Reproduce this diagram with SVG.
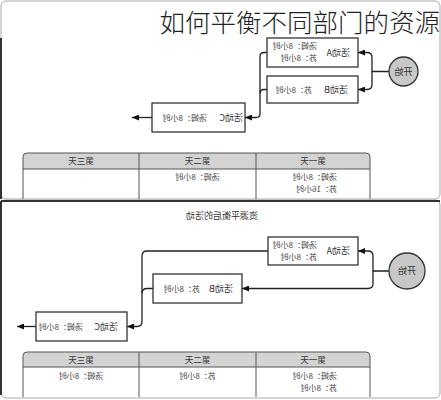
<svg xmlns="http://www.w3.org/2000/svg" width="441" height="400" viewBox="0 0 441 400">
<style>
.t{font-family:"Noto Sans CJK SC","Liberation Sans",sans-serif;fill:#333}
.lbl{font-size:9px}
.det{font-size:8px;fill:#444}
.hd{font-size:8.5px;text-anchor:middle;fill:#333}
.box{fill:#fff;stroke:#333;stroke-width:1.3}
.con{fill:none;stroke:#222;stroke-width:1.3}
.tbl{fill:none;stroke:#555;stroke-width:1}
.head{fill:#d3d3d3}
.panel{fill:#fff;stroke:#aaa;stroke-width:1}
.edge{stroke:#333;stroke-width:2;fill:none}
</style>
<defs>
<marker id="ah" viewBox="0 0 7 6" refX="7" refY="3" markerWidth="7" markerHeight="6" markerUnits="userSpaceOnUse" orient="auto"><path d="M0,0 L7,3 L0,6 z" fill="#111"/></marker>
</defs>
<rect width="441" height="400" fill="#fff"/>
<g id="panels">
<rect class="panel" x="1" y="1" width="439" height="198" rx="5"/>
<rect class="panel" x="1" y="200" width="439" height="198" rx="5"/>
<line class="edge" x1="1" y1="38" x2="1" y2="199"/>
<line class="edge" x1="1" y1="201" x2="440" y2="201"/>
<line class="edge" x1="1" y1="201" x2="1" y2="395"/>
</g>
<g transform="matrix(-1 0 0 1 441 0)">
<g id="connectors">
<path class="con" d="M52,71.5 H69 V57.5 Q69,52.5 74,52.5 H83" marker-end="url(#ah)"/>
<path class="con" d="M69,71.5 V84.5 Q69,89.5 74,89.5 H83" marker-end="url(#ah)"/>
<path class="con" d="M174,52.5 H177 Q181,52.5 181,56.5 V113.5 Q181,117.5 185,117.5 H196" marker-end="url(#ah)"/>
<path class="con" d="M174,89.5 H177 Q181,89.5 181,93.5"/>
<path class="con" d="M289,117.5 H309" marker-end="url(#ah)"/>
<path class="con" d="M52,271 H68 V256 Q68,251 73,251 H83" marker-end="url(#ah)"/>
<path class="con" d="M68,271 V283.5 Q68,288.5 73,288.5 H199" marker-end="url(#ah)"/>
<path class="con" d="M173,251 H294 Q299,251 299,256 V321.5 Q299,326.5 304,326.5 H314" marker-end="url(#ah)"/>
<path class="con" d="M288,288.5 H294 Q299,288.5 299,293.5"/>
<path class="con" d="M405,326.5 H424" marker-end="url(#ah)"/>
</g>
<g id="start1">
<circle cx="37.5" cy="71.5" r="14.5" fill="#c8c8c8" stroke="#333" stroke-width="1.3"/>
<text class="t lbl" x="37.5" y="74.5" text-anchor="middle">开始</text>
</g>
<g id="actA1">
<rect class="box" x="83" y="38" width="91" height="29"/>
<text class="t lbl" x="91" y="55.5">活动A</text>
<text class="t det" x="124" y="49">汤姆：8小时</text>
<text class="t det" x="124" y="61">苏：8小时</text>
</g>
<g id="actB1">
<rect class="box" x="83" y="76" width="91" height="27"/>
<text class="t lbl" x="93" y="92.5">活动B</text>
<text class="t det" x="129" y="92.5">苏：8小时</text>
</g>
<g id="actC1">
<rect class="box" x="196" y="103" width="93" height="29"/>
<text class="t lbl" x="198" y="120.5">活动C</text>
<text class="t det" x="234" y="120.5">汤姆：8小时</text>
</g>
<g id="table1">
<path class="head" d="M71,169 V157 Q71,153 75,153 H414 Q418,153 418,157 V169 Z"/>
<path class="tbl" d="M71,199 V157 Q71,153 75,153 H414 Q418,153 418,157 V199 M71,169 H418 M185,153 V199 M302,153 V199"/>
<text class="t hd" x="128" y="164">第一天</text>
<text class="t hd" x="243.5" y="164">第二天</text>
<text class="t hd" x="360" y="164">第三天</text>
<text class="t det" x="104" y="180">汤姆：8小时</text>
<text class="t det" x="104" y="192">苏：16小时</text>
<text class="t det" x="243.5" y="180" text-anchor="middle">汤姆：8小时</text>
</g>
<text class="t" x="219" y="219" text-anchor="middle" font-size="9">资源平衡后的活动</text>
<g id="start2">
<circle cx="34" cy="271" r="18" fill="#c8c8c8" stroke="#333" stroke-width="1.3"/>
<text class="t lbl" x="34" y="274" text-anchor="middle">开始</text>
</g>
<g id="actA2">
<rect class="box" x="83" y="237" width="90" height="28"/>
<text class="t lbl" x="91" y="254">活动A</text>
<text class="t det" x="124" y="247.5">汤姆：8小时</text>
<text class="t det" x="124" y="259.5">苏：8小时</text>
</g>
<g id="actB2">
<rect class="box" x="199" y="274" width="89" height="29"/>
<text class="t lbl" x="208" y="291.5">活动B</text>
<text class="t det" x="241" y="291.5">苏：8小时</text>
</g>
<g id="actC2">
<rect class="box" x="314" y="312" width="91" height="29"/>
<text class="t lbl" x="323" y="329.5">活动C</text>
<text class="t det" x="358" y="329.5">汤姆：8小时</text>
</g>
<g id="table2">
<path class="head" d="M71,367 V356 Q71,352 75,352 H414 Q418,352 418,356 V367 Z"/>
<path class="tbl" d="M71,397 V356 Q71,352 75,352 H414 Q418,352 418,356 V397 M71,367 H418 M185,352 V397 M302,352 V397"/>
<text class="t hd" x="128" y="362.5">第一天</text>
<text class="t hd" x="243.5" y="362.5">第二天</text>
<text class="t hd" x="360" y="362.5">第三天</text>
<text class="t det" x="104" y="379">汤姆：8小时</text>
<text class="t det" x="104" y="391">苏：8小时</text>
<text class="t det" x="243.5" y="379" text-anchor="middle">苏：8小时</text>
<text class="t det" x="360" y="379" text-anchor="middle">汤姆：8小时</text>
</g>
</g>
<text x="440" y="32" text-anchor="end" font-family="Noto Sans CJK SC, sans-serif" font-weight="300" font-size="25.5" fill="#222">如何平衡不同部门的资源</text>
</svg>
